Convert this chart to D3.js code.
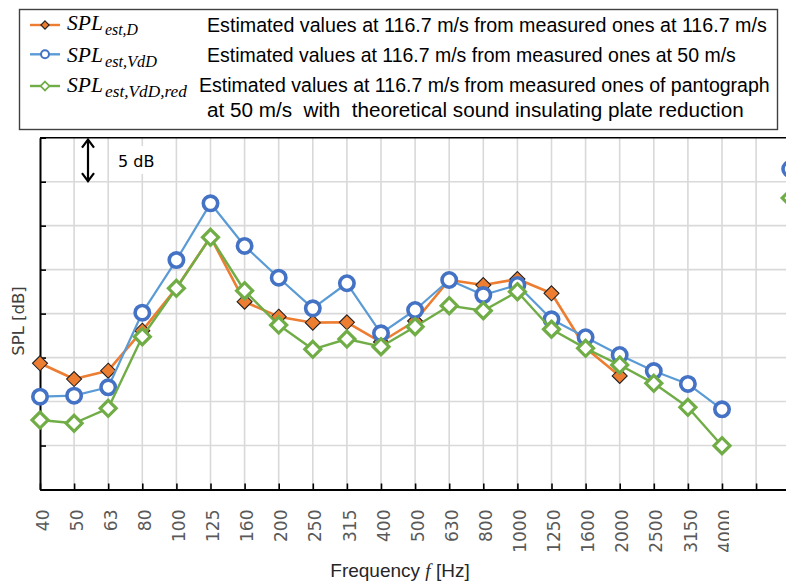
<!DOCTYPE html>
<html><head><meta charset="utf-8">
<script src="https://cdn.jsdelivr.net/npm/d3@7"></script>
<style>body{margin:0;background:#fff}svg{display:block}</style>
</head><body>
<svg id="c" width="786" height="582"></svg>
<script>
// ---- data ----
const categories = ["40","50","63","80","100","125","160","200","250","315","400","500","630","800","1000","1250","1600","2000","2500","3150","4000","5000","O.A."];
const tickLabels = ["40","50","63","80","100","125","160","200","250","315","400","500","630","800","1000","1250","1600","2000","2500","3150","4000","",""];
// relative SPL in dB (gridline step 5 dB, no absolute labels)
const splEstD      = [14.35,12.56,13.51,18.06,22.91,28.71,21.35,19.65,18.97,19.01,16.77,19.16,23.82,23.25,23.93,22.31,16.09,12.91,null,null,null,null,33.26];
const splEstVdD    = [10.55,10.67,11.62,20.10,26.09,32.54,27.69,24.08,20.60,23.45,17.76,20.41,23.82,22.11,23.25,19.35,17.31,15.29,13.47,12.00,9.12,null,36.44];
const splEstVdDRed = [7.90,7.53,9.23,17.37,22.88,28.68,22.60,18.70,15.94,17.11,16.24,18.51,20.90,20.33,22.49,18.22,16.05,14.16,12.07,9.35,4.98,null,33.14];
const yTicks = [0,5,10,15,20,25,30,35,40];

const svg = d3.select("#c");
const W = 786, H = 582;
const plot = {left:40, top:137.7, bottom:489.5, right:790.2};

const x = d3.scalePoint().domain(categories).range([plot.left, plot.right]).padding(0);
const y = d3.scaleLinear().domain([0,40]).range([plot.bottom, plot.top]);

// gridlines
const grid = svg.append("g");
grid.selectAll("line.v").data(categories.slice(1)).join("line")
  .attr("x1", d=>x(d)).attr("x2", d=>x(d)).attr("y1", plot.top).attr("y2", plot.bottom)
  .attr("stroke","#d9d9d9").attr("stroke-width",1.6);
grid.selectAll("line.h").data(yTicks.slice(1,-1)).join("line")
  .attr("x1", plot.left).attr("x2", W).attr("y1", d=>y(d)).attr("y2", d=>y(d))
  .attr("stroke","#d9d9d9").attr("stroke-width",1.6);

// axes
const xAxis = d3.axisBottom(x).tickSize(-6).tickFormat((d,i)=>tickLabels[i]).tickSizeOuter(0);
const gx = svg.append("g").attr("transform",`translate(0,${plot.bottom})`).call(xAxis);
gx.select(".domain").attr("stroke","#000").attr("stroke-width",2);
gx.selectAll(".tick line").attr("stroke","#000").attr("stroke-width",1.6);
gx.selectAll(".tick text")
  .attr("font-family","DejaVu Sans").attr("font-size",17).attr("fill","#595959")
  .attr("text-anchor","end").attr("transform","translate(2,20) rotate(-90)")
  .attr("x",0).attr("y",0).attr("dy","0.36em");

const yAxis = d3.axisLeft(y).tickValues(yTicks).tickSize(-6).tickFormat("").tickSizeOuter(0);
const gy = svg.append("g").attr("transform",`translate(${plot.left},0)`).call(yAxis);
gy.select(".domain").attr("stroke","#000").attr("stroke-width",2);
gy.selectAll(".tick line").attr("stroke","#000").attr("stroke-width",1.6);

// top border of plot area
svg.append("line").attr("x1",plot.left).attr("x2",W).attr("y1",plot.top).attr("y2",plot.top)
  .attr("stroke","#000").attr("stroke-width",1.6);

// mask: the reference crops the last frequency label
svg.append("rect").attr("x",729).attr("y",496).attr("width",50).attr("height",66).attr("fill","#fff");

// series
const series = [
  {name:"D", values:splEstD, line:"#ED7D31", lw:2.6, marker:"diamondFill"},
  {name:"VdD", values:splEstVdD, line:"#5B9BD5", lw:2.2, marker:"circle"},
  {name:"VdDred", values:splEstVdDRed, line:"#70AD47", lw:2.4, marker:"diamondHollow"}
];
const lineGen = d3.line().defined(d=>d.v!=null).x(d=>x(d.c)).y(d=>y(d.v));
function drawMarker(g, type, cx, cy, scale){
  scale = scale||1;
  if(type==="diamondFill"){
    const r=7.5*scale;
    g.append("path").attr("d",`M${cx},${cy-r}L${cx+r},${cy}L${cx},${cy+r}L${cx-r},${cy}Z`)
      .attr("fill","#ED7D31").attr("stroke","#222").attr("stroke-width",1.1);
  } else if(type==="circle"){
    g.append("circle").attr("cx",cx).attr("cy",cy).attr("r",7.2*scale)
      .attr("fill","#fff").attr("stroke","#4472C4").attr("stroke-width",3.6*scale);
  } else {
    const r=8*scale;
    g.append("path").attr("d",`M${cx},${cy-r}L${cx+r},${cy}L${cx},${cy+r}L${cx-r},${cy}Z`)
      .attr("fill","#fff").attr("stroke","#70AD47").attr("stroke-width",3.2*scale);
  }
}
series.forEach(s=>{
  const pts = categories.map((c,i)=>({c, v:s.values[i]}));
  const main = pts.slice(0,21);
  const g = svg.append("g");
  g.append("path").datum(main).attr("d",lineGen).attr("fill","none")
    .attr("stroke",s.line).attr("stroke-width",s.lw).attr("stroke-linejoin","round");
  pts.forEach(p=>{ if(p.v!=null) drawMarker(g, s.marker, x(p.c), y(p.v)); });
});

// 5 dB annotation
const ann = svg.append("g");
ann.append("rect").attr("x",110).attr("y",146).attr("width",50).attr("height",28).attr("fill","#fff");
const ax = 88, ay1 = plot.top+2, ay2 = y(35)-0.5;
ann.append("line").attr("x1",ax).attr("x2",ax).attr("y1",ay1).attr("y2",ay2).attr("stroke","#000").attr("stroke-width",2.2);
ann.append("path").attr("d",`M${ax-6},${ay1+8}L${ax},${ay1}L${ax+6},${ay1+8}`).attr("fill","none").attr("stroke","#000").attr("stroke-width",2.2);
ann.append("path").attr("d",`M${ax-6},${ay2-8}L${ax},${ay2}L${ax+6},${ay2-8}`).attr("fill","none").attr("stroke","#000").attr("stroke-width",2.2);
ann.append("text").attr("x",118).attr("y",166.5).attr("font-family","DejaVu Sans").attr("font-size",16).attr("fill","#000").text("5 dB");

// axis titles
svg.append("text").attr("transform","translate(24,321) rotate(-90)").attr("text-anchor","middle")
  .attr("font-family","DejaVu Sans").attr("font-size",16.5).attr("fill","#404040").text("SPL [dB]");
const xt = svg.append("text").attr("x",400).attr("y",577).attr("text-anchor","middle")
  .attr("font-family","Liberation Sans").attr("font-size",19).attr("fill","#262626");
xt.append("tspan").text("Frequency ");
xt.append("tspan").attr("font-family","Liberation Serif").attr("font-style","italic").text("f");
xt.append("tspan").text(" [Hz]");

// legend
const lg = svg.append("g");
lg.append("rect").attr("x",19.5).attr("y",9.5).attr("width",758).attr("height",120)
  .attr("fill","#fff").attr("stroke","#404040").attr("stroke-width",1.4);
const legendRows = [
  {s:series[0], y:25, base:29.5, sub:"est,D", sw:33, desc:"Estimated values at 116.7 m/s from measured ones at 116.7 m/s", dx:207, dbase:32, w:560},
  {s:series[1], y:54.3, base:61.7, sub:"est,VdD", sw:52, desc:"Estimated values at 116.7 m/s from measured ones at 50 m/s", dx:207, dbase:62, w:529},
  {s:series[2], y:86, base:92, sub:"est,VdD,red", sw:82, desc:"Estimated values at 116.7 m/s from measured ones of pantograph", dx:199, dbase:92, w:571}
];
function fitText(t, w){
  const len = t.node().getComputedTextLength();
  const fs = +t.attr("font-size");
  if(len>0) t.attr("font-size", fs*w/len);
}
legendRows.forEach(r=>{
  lg.append("line").attr("x1",30).attr("x2",60).attr("y1",r.y).attr("y2",r.y).attr("stroke",r.s.line).attr("stroke-width",2.4);
  drawMarker(lg, r.s.marker, 45, r.y, 0.55);
  lg.append("text").attr("x",67).attr("y",r.base).attr("font-family","Liberation Serif").attr("font-style","italic").attr("font-size",21.5).attr("fill","#000").text("SPL");
  const sb = lg.append("text").attr("x",105).attr("y",r.base+5).attr("font-family","Liberation Serif").attr("font-style","italic").attr("font-size",15.5).attr("fill","#000").text(r.sub);
  fitText(sb, r.sw);
  const d = lg.append("text").attr("x",r.dx).attr("y",r.dbase).attr("font-family","Liberation Sans").attr("font-size",19).attr("fill","#000").text(r.desc);
  fitText(d, r.w);
});
const d4 = lg.append("text").attr("x",207).attr("y",117).attr("font-family","Liberation Sans").attr("font-size",19).attr("fill","#000")
  .attr("xml:space","preserve").style("white-space","pre").text("at 50 m/s  with  theoretical sound insulating plate reduction");
fitText(d4, 537);
</script>
</body></html>
